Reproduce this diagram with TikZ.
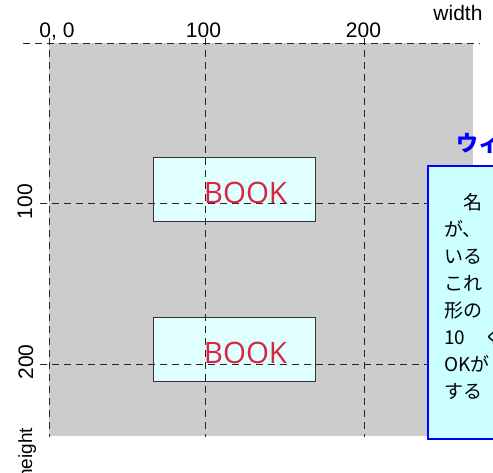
\documentclass[tikz,border=0pt]{standalone}
\usepackage{fontspec}
\setmainfont{Liberation Sans}
\newfontfamily\cjk{Noto Sans CJK JP}
\newfontfamily\bookfont{Open Sans}
\definecolor{bggray}{HTML}{CCCCCC}
\definecolor{lcyan}{HTML}{E0FFFF}
\definecolor{ccyan}{HTML}{CCFFFF}
\definecolor{bookred}{HTML}{E0223F}
\begin{document}
\begin{tikzpicture}[x=1pt,y=-1pt,
  gridline/.style={draw=black!85, line width=0.9pt, dash pattern=on 7pt off 5pt},
  bookbox/.style={draw=black!80, line width=1.2pt, fill=lcyan, minimum width=162pt, minimum height=64pt, anchor=north west, inner sep=0pt},
  booktext/.style={text=bookred, font=\bookfont\fontsize{29.5}{30}\selectfont, inner sep=0pt, anchor=base},
  axlabel/.style={font=\fontsize{21}{21}\selectfont, inner sep=0pt, anchor=base},
  noteline/.style={font=\cjk\fontsize{19}{27}\selectfont, inner sep=0pt, anchor=base west}]
\useasboundingbox (0,0) rectangle (493,472);
\clip (0,0) rectangle (493,472);
% background
\fill[bggray] (49,43) rectangle (473,436);
% book boxes
\node[bookbox] (b1) at (153,157) {};
\node[bookbox] (b2) at (153,317) {};
% grid and axes
\draw[gridline] (23,43) -- (480,43);
\draw[gridline] (49,38) -- (49,437);
\draw[gridline] (205,38) -- (205,437);
\draw[gridline] (364,38) -- (364,437);
\draw[gridline] (40,203) -- (427,203);
\draw[gridline] (40,364) -- (427,364);
% book texts
\node[booktext] (t1) at (245.5,203) {BOOK};
\node[booktext] (t2) at (245.5,363) {BOOK};
% callout
\node[draw=blue, line width=2pt, fill=ccyan, anchor=north west, minimum width=110pt, minimum height=273pt] (callout) at (427,165) {};
\node[font=\cjk\bfseries\fontsize{22}{22}\selectfont, text=blue, anchor=base west, inner sep=0pt] (title) at (456,151) {ウィ};
\node[noteline] (n1) at (444,209) {　名};
\node[noteline] (n2) at (444,236) {が、};
\node[noteline] (n3) at (444,263) {いる};
\node[noteline] (n4) at (444,290) {これ};
\node[noteline] (n5) at (444,317) {形の};
\node[noteline] (n6) at (444,344) {10　く};
\node[noteline] (n7) at (444,371) {OKが};
\node[noteline] (n8) at (444,398) {する};
% axis labels
\node[axlabel] (l00) at (57,37) {0, 0};
\node[axlabel] (l100) at (203.5,37) {100};
\node[axlabel] (l200) at (363.5,37) {200};
\node[axlabel] (lw) at (458,20) {width};
\node[axlabel, rotate=90] (lv100) at (32,201.5) {100};
\node[axlabel, rotate=90] (lv200) at (33,362) {200};
\node[axlabel, rotate=90, font=\fontsize{19}{19}\selectfont] (lh) at (32,454) {height};
\end{tikzpicture}
\end{document}
